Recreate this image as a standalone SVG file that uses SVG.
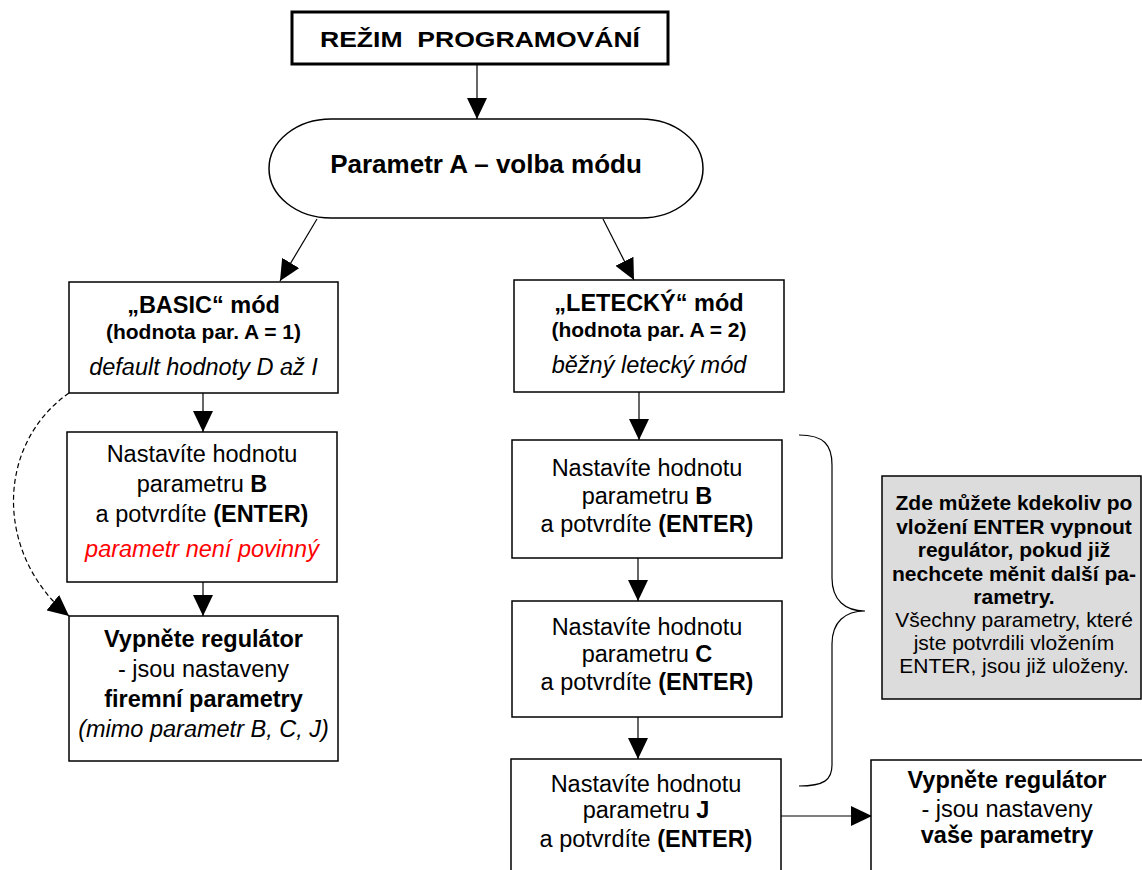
<svg xmlns="http://www.w3.org/2000/svg" width="1142" height="870" viewBox="0 0 1142 870">
<style>
text{font-family:"Liberation Sans",Arial,sans-serif;fill:#000;text-anchor:middle}
.t{font-size:23.5px}
.b{font-weight:bold}
.i{font-style:italic}
.s{font-size:21px}
.g{font-size:21px}
.box{fill:#fff;stroke:#000;stroke-width:1.5}
.gray{fill:#dcdcdc;stroke:#000;stroke-width:1.5}
.c{fill:none;stroke:#000;stroke-width:1.2}
.d{fill:none;stroke:#000;stroke-width:1.2;stroke-dasharray:5,3}
.red{fill:#ff0000}
</style>
<defs>
<marker id="ah" markerWidth="22" markerHeight="20" refX="21" refY="10" orient="auto" markerUnits="userSpaceOnUse">
<path d="M0,0 L21,10 L0,20 z" fill="#000"/>
</marker>
</defs>
<g id="connectors">
<line class="c" x1="477" y1="65" x2="477" y2="119" marker-end="url(#ah)"/>
<line class="c" x1="317" y1="219" x2="280" y2="281" marker-end="url(#ah)"/>
<line class="c" x1="603" y1="219" x2="634" y2="280" marker-end="url(#ah)"/>
<line class="c" x1="203" y1="393" x2="203" y2="432" marker-end="url(#ah)"/>
<line class="c" x1="203" y1="582" x2="203" y2="616" marker-end="url(#ah)"/>
<path class="d" d="M69,393 C-5,445 -5,555 69,616" marker-end="url(#ah)"/>
<line class="c" x1="639" y1="392" x2="639" y2="440" marker-end="url(#ah)"/>
<line class="c" x1="638" y1="558" x2="638" y2="601" marker-end="url(#ah)"/>
<line class="c" x1="638" y1="717" x2="638" y2="759" marker-end="url(#ah)"/>
<line class="c" x1="781" y1="816" x2="872" y2="816" marker-end="url(#ah)"/>
<path class="c" d="M799,435 C824,435 832,445 832,465 L832,578 C832,600 845,611 865,611 C845,611 832,622 832,644 L832,765 C832,780 824,786 799,786"/>
</g>
<g id="start">
<rect x="292" y="12" width="376" height="52" fill="#fff" stroke="#000" stroke-width="3"/>
<text x="480" y="47" class="b" style="font-size:22px;white-space:pre" textLength="320" lengthAdjust="spacingAndGlyphs">REŽIM  PROGRAMOVÁNÍ</text>
</g>
<g id="paramA">
<rect class="box" x="269" y="119" width="434" height="99" rx="62" ry="49.5"/>
<text x="486" y="173" class="b" style="font-size:26px">Parametr A – volba módu</text>
</g>
<g id="basic">
<rect class="box" x="69" y="282" width="269" height="111"/>
<text x="203.5" y="313" class="t b">„BASIC“ mód</text>
<text x="203.5" y="339" class="s b">(hodnota par. A = 1)</text>
<text x="203.5" y="375" class="t i">default hodnoty D až I</text>
</g>
<g id="basicB">
<rect class="box" x="67" y="432" width="270" height="150"/>
<text x="202" y="462" class="t">Nastavíte hodnotu</text>
<text x="202" y="492" class="t">parametru <tspan class="b">B</tspan></text>
<text x="202" y="522" class="t">a potvrdíte <tspan class="b">(ENTER)</tspan></text>
<text x="202" y="557" class="t i red">parametr není povinný</text>
</g>
<g id="basicOff">
<rect class="box" x="69" y="616" width="269" height="145"/>
<text x="203.5" y="647" class="t b">Vypněte regulátor</text>
<text x="203.5" y="677" class="t">- jsou nastaveny</text>
<text x="203.5" y="707" class="t b">firemní parametry</text>
<text x="203.5" y="737" class="t i">(mimo parametr B, C, J)</text>
</g>
<g id="letecky">
<rect class="box" x="514" y="280" width="270" height="112"/>
<text x="649" y="311" class="t b">„LETECKÝ“ mód</text>
<text x="649" y="337" class="s b">(hodnota par. A = 2)</text>
<text x="649" y="373" class="t i">běžný letecký mód</text>
</g>
<g id="letB">
<rect class="box" x="512" y="440" width="270" height="118"/>
<text x="647" y="476" class="t">Nastavíte hodnotu</text>
<text x="647" y="504" class="t">parametru <tspan class="b">B</tspan></text>
<text x="647" y="532" class="t">a potvrdíte <tspan class="b">(ENTER)</tspan></text>
</g>
<g id="letC">
<rect class="box" x="512" y="601" width="270" height="116"/>
<text x="647" y="635" class="t">Nastavíte hodnotu</text>
<text x="647" y="662" class="t">parametru <tspan class="b">C</tspan></text>
<text x="647" y="690" class="t">a potvrdíte <tspan class="b">(ENTER)</tspan></text>
</g>
<g id="letJ">
<rect class="box" x="511" y="759" width="270" height="125"/>
<text x="646" y="792" class="t">Nastavíte hodnotu</text>
<text x="646" y="818" class="t">parametru <tspan class="b">J</tspan></text>
<text x="646" y="847" class="t">a potvrdíte <tspan class="b">(ENTER)</tspan></text>
</g>
<g id="letOff">
<rect class="box" x="871" y="760" width="290" height="125"/>
<text x="1007" y="788" class="t b">Vypněte regulátor</text>
<text x="1007" y="817" class="t">- jsou nastaveny</text>
<text x="1007" y="843" class="t b">vaše parametry</text>
</g>
<g id="note">
<rect class="gray" x="882" y="476" width="259" height="223"/>
<text x="1014" y="510" class="g b">Zde můžete kdekoliv po</text>
<text x="1014" y="534" class="g b">vložení ENTER vypnout</text>
<text x="1014" y="557" class="g b">regulátor, pokud již</text>
<text x="1014" y="581" class="g b">nechcete měnit další pa-</text>
<text x="1014" y="604" class="g b">rametry.</text>
<text x="1014" y="627" class="g">Všechny parametry, které</text>
<text x="1014" y="650" class="g">jste potvrdili vložením</text>
<text x="1014" y="673" class="g">ENTER, jsou již uloženy.</text>
</g>
</svg>
